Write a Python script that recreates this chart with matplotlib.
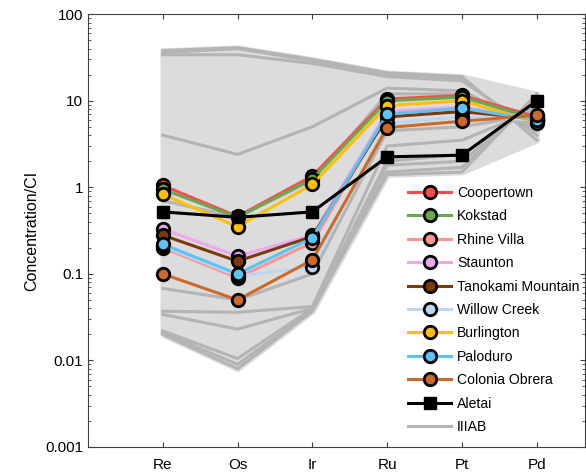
import matplotlib

matplotlib.use("Agg")
import matplotlib.pyplot as plt  # noqa: E402
import numpy as np  # noqa: E402

plt.rcParams["font.family"] = ["Liberation Sans", "DejaVu Sans"]

elements = ["Re", "Os", "Ir", "Ru", "Pt", "Pd"]

# CI-normalised concentrations, Re..Pd
coopertown = [1.05, 0.46, 1.35, 10.5, 11.5, 6.5]
kokstad = [0.95, 0.45, 1.25, 10.0, 11.0, 6.2]
rhine_villa = [0.20, 0.09, 0.23, 7.0, 7.5, 6.0]
staunton = [0.33, 0.16, 0.28, 7.5, 8.5, 6.0]
tanokami = [0.28, 0.14, 0.27, 6.5, 7.5, 6.2]
willow_creek = [0.21, 0.095, 0.12, 5.5, 6.5, 6.0]
burlington = [0.83, 0.35, 1.08, 8.8, 10.0, 5.6]
paloduro = [0.22, 0.10, 0.26, 7.0, 8.2, 6.0]
colonia_obrera = [0.10, 0.05, 0.145, 4.9, 5.8, 6.8]
aletai = [0.52, 0.45, 0.52, 2.25, 2.35, 10.0]

iiiab = [
    [38, 41, 30, 21, 19, 3.5],
    [36, 40, 29, 20, 18, 4.0],
    [34, 34, 27, 19, 17, 4.5],
    [4.0, 2.4, 5.0, 14, 13, 5.0],
    [0.7, 0.45, 1.2, 12, 12, 5.5],
    [0.068, 0.05, 0.10, 4.5, 5.0, 7.0],
    [0.037, 0.036, 0.042, 3.0, 3.5, 8.0],
    [0.034, 0.023, 0.040, 2.0, 2.4, 9.0],
    [0.022, 0.0105, 0.040, 1.8, 2.0, 10.0],
    [0.020, 0.008, 0.037, 1.5, 1.7, 11.0],
    [0.021, 0.009, 0.038, 1.4, 1.5, 12.0],
]

series = [
    ("Coopertown", coopertown, "#ff4b4b"),
    ("Kokstad", kokstad, "#6aa84f"),
    ("Rhine Villa", rhine_villa, "#ff9494"),
    ("Staunton", staunton, "#eea8ee"),
    ("Tanokami Mountain", tanokami, "#7a3a0a"),
    ("Willow Creek", willow_creek, "#bcd7f5"),
    ("Burlington", burlington, "#ffc000"),
    ("Paloduro", paloduro, "#5bc4f5"),
    ("Colonia Obrera", colonia_obrera, "#cd6a2a"),
]

x = np.arange(1, len(elements) + 1)
g = np.array(iiiab)

fig = plt.figure(figsize=(5.86, 4.73), dpi=100)
ax = fig.add_axes([0.150, 0.055, 0.849, 0.915])

ax.fill_between(x, g.min(axis=0), g.max(axis=0), color="#dcdcdc",
                lw=4, edgecolor="#dcdcdc", zorder=1)
for i, row in enumerate(g):
    ax.plot(x, row, color="#b4b4b4", lw=2.2, zorder=2,
            label="IIIAB" if i == 0 else None)

handles = []
for name, vals, c in series:
    h, = ax.plot(x, vals, "-o", color=c, lw=2.2, ms=9, mfc=c, mec="black",
                 mew=2, label=name, zorder=3)
    handles.append(h)
h_al, = ax.plot(x, aletai, "-s", color="black", lw=2.2, ms=9, label="Aletai", zorder=4)
handles.append(h_al)
handles.append(ax.get_lines()[0])

ax.set_yscale("log")
ax.set_ylim(0.001, 100)
ax.set_xlim(0, 6.65)
ax.set_xticks(x)
ax.set_xticklabels(elements)
ax.set_yticks([0.001, 0.01, 0.1, 1, 10, 100])
ax.set_yticklabels(["0.001", "0.01", "0.1", "1", "10", "100"])
ax.set_ylabel("Concentration/CI", fontsize=11.5)
ax.tick_params(which="both", direction="in", top=True, right=True,
               labelsize=11, color="#404040")
ax.tick_params(axis="x", pad=8)
for s in ax.spines.values():
    s.set_color("#404040")

ax.legend(handles=handles, loc="upper left", bbox_to_anchor=(0.632, 0.616),
          frameon=False, fontsize=10.1, handlelength=3.1, labelspacing=0.67,
          handletextpad=0.4, borderaxespad=0)

fig.savefig("out.png", dpi=100)
